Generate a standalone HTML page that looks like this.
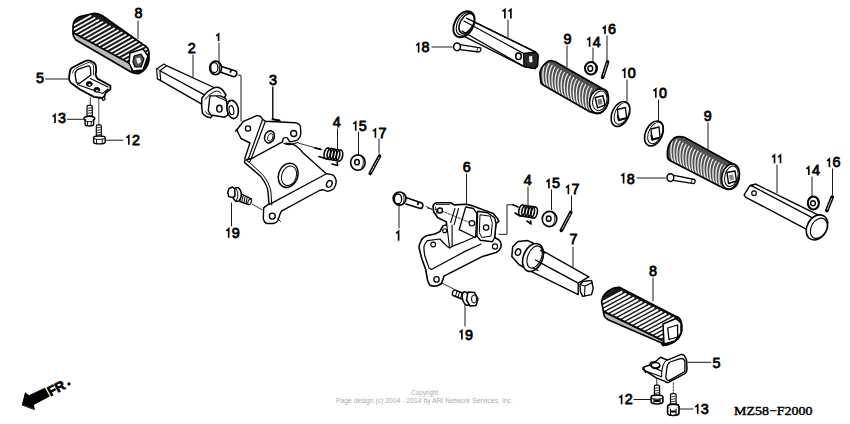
<!DOCTYPE html>
<html><head><meta charset="utf-8"><style>
html,body{margin:0;padding:0;background:#fff;width:850px;height:424px;overflow:hidden}
svg{position:absolute;left:0;top:0}
.d{font-family:"Liberation Sans",sans-serif;font-size:13.8px;fill:#000;stroke:#000;stroke-width:0.75}
</style></head><body>
<svg width="850" height="424" viewBox="0 0 850 424">
<g id="labels">
<text x="0" y="0" transform="translate(138.6,18.4) scale(1.04,1)" text-anchor="middle" class="d">8</text>
<text x="0" y="0" transform="translate(40.0,83.0) scale(1.04,1)" text-anchor="middle" class="d">5</text>
<path d="M55.0,123.0V114.7l-2.4,2.0" fill="none" stroke="#000" stroke-width="1.65"/>
<text x="0" y="0" transform="translate(62.1,123.0) scale(1.04,1)" text-anchor="middle" class="d">3</text>
<path d="M128.8,144.8V135.8l-2.4,2.0" fill="none" stroke="#000" stroke-width="1.65"/>
<text x="0" y="0" transform="translate(135.9,144.8) scale(1.04,1)" text-anchor="middle" class="d">2</text>
<text x="0" y="0" transform="translate(191.8,53.0) scale(1.04,1)" text-anchor="middle" class="d">2</text>
<path d="M218.6,41.0V33.9l-2.4,2.0" fill="none" stroke="#000" stroke-width="1.65"/>
<text x="0" y="0" transform="translate(273.1,84.8) scale(1.04,1)" text-anchor="middle" class="d">3</text>
<text x="0" y="0" transform="translate(336.8,127.0) scale(1.04,1)" text-anchor="middle" class="d">4</text>
<path d="M355.7,130.7V121.9l-2.4,2.0" fill="none" stroke="#000" stroke-width="1.65"/>
<text x="0" y="0" transform="translate(362.8,130.7) scale(1.04,1)" text-anchor="middle" class="d">5</text>
<path d="M375.4,137.7V129.2l-2.4,2.0" fill="none" stroke="#000" stroke-width="1.65"/>
<text x="0" y="0" transform="translate(382.5,137.7) scale(1.04,1)" text-anchor="middle" class="d">7</text>
<path d="M228.7,237.8V228.8l-2.4,2.0" fill="none" stroke="#000" stroke-width="1.65"/>
<text x="0" y="0" transform="translate(235.8,237.8) scale(1.04,1)" text-anchor="middle" class="d">9</text>
<path d="M504.9,18.4V9.4l-2.4,2.0" fill="none" stroke="#000" stroke-width="1.65"/>
<path d="M510.9,18.4V9.4l-2.4,2.0" fill="none" stroke="#000" stroke-width="1.65"/>
<path d="M418.6,52.4V43.4l-2.4,2.0" fill="none" stroke="#000" stroke-width="1.65"/>
<text x="0" y="0" transform="translate(425.6,52.4) scale(1.04,1)" text-anchor="middle" class="d">8</text>
<text x="0" y="0" transform="translate(567.5,44.0) scale(1.04,1)" text-anchor="middle" class="d">9</text>
<path d="M589.6,46.8V37.9l-2.4,2.0" fill="none" stroke="#000" stroke-width="1.65"/>
<text x="0" y="0" transform="translate(596.7,46.8) scale(1.04,1)" text-anchor="middle" class="d">4</text>
<path d="M605.0,34.0V26.5l-2.4,2.0" fill="none" stroke="#000" stroke-width="1.65"/>
<text x="0" y="0" transform="translate(612.1,34.0) scale(1.04,1)" text-anchor="middle" class="d">6</text>
<path d="M624.7,78.0V68.9l-2.4,2.0" fill="none" stroke="#000" stroke-width="1.65"/>
<text x="0" y="0" transform="translate(631.8,78.0) scale(1.04,1)" text-anchor="middle" class="d">0</text>
<path d="M655.8,97.8V88.9l-2.4,2.0" fill="none" stroke="#000" stroke-width="1.65"/>
<text x="0" y="0" transform="translate(662.9,97.8) scale(1.04,1)" text-anchor="middle" class="d">0</text>
<text x="0" y="0" transform="translate(707.8,121.2) scale(1.04,1)" text-anchor="middle" class="d">9</text>
<path d="M623.6,183.6V173.9l-2.4,2.0" fill="none" stroke="#000" stroke-width="1.65"/>
<text x="0" y="0" transform="translate(630.7,183.6) scale(1.04,1)" text-anchor="middle" class="d">8</text>
<path d="M774.5,163.3V155.1l-2.4,2.0" fill="none" stroke="#000" stroke-width="1.65"/>
<path d="M780.5,163.3V155.1l-2.4,2.0" fill="none" stroke="#000" stroke-width="1.65"/>
<path d="M808.8,175.0V166.9l-2.4,2.0" fill="none" stroke="#000" stroke-width="1.65"/>
<text x="0" y="0" transform="translate(815.9,175.0) scale(1.04,1)" text-anchor="middle" class="d">4</text>
<path d="M829.4,167.2V158.9l-2.4,2.0" fill="none" stroke="#000" stroke-width="1.65"/>
<text x="0" y="0" transform="translate(836.5,167.2) scale(1.04,1)" text-anchor="middle" class="d">6</text>
<text x="0" y="0" transform="translate(466.8,172.0) scale(1.04,1)" text-anchor="middle" class="d">6</text>
<path d="M398.6,240.7V231.3l-2.4,2.0" fill="none" stroke="#000" stroke-width="1.65"/>
<text x="0" y="0" transform="translate(527.7,184.8) scale(1.04,1)" text-anchor="middle" class="d">4</text>
<path d="M548.9,188.3V179.8l-2.4,2.0" fill="none" stroke="#000" stroke-width="1.65"/>
<text x="0" y="0" transform="translate(556.0,188.3) scale(1.04,1)" text-anchor="middle" class="d">5</text>
<path d="M568.4,194.2V185.7l-2.4,2.0" fill="none" stroke="#000" stroke-width="1.65"/>
<text x="0" y="0" transform="translate(575.5,194.2) scale(1.04,1)" text-anchor="middle" class="d">7</text>
<text x="0" y="0" transform="translate(573.5,244.0) scale(1.04,1)" text-anchor="middle" class="d">7</text>
<text x="0" y="0" transform="translate(653.0,276.2) scale(1.04,1)" text-anchor="middle" class="d">8</text>
<path d="M461.9,339.5V330.4l-2.4,2.0" fill="none" stroke="#000" stroke-width="1.65"/>
<text x="0" y="0" transform="translate(469.0,339.5) scale(1.04,1)" text-anchor="middle" class="d">9</text>
<text x="0" y="0" transform="translate(716.4,367.5) scale(1.04,1)" text-anchor="middle" class="d">5</text>
<path d="M621.6,404.2V395.7l-2.4,2.0" fill="none" stroke="#000" stroke-width="1.65"/>
<text x="0" y="0" transform="translate(628.7,404.2) scale(1.04,1)" text-anchor="middle" class="d">2</text>
<path d="M697.7,413.7V405.1l-2.4,2.0" fill="none" stroke="#000" stroke-width="1.65"/>
<text x="0" y="0" transform="translate(704.8,413.7) scale(1.04,1)" text-anchor="middle" class="d">3</text>
</g>
<g fill="none" stroke="#000" stroke-width="1.1" stroke-linecap="round" stroke-linejoin="round">
<!-- leader lines -->
<g stroke-width="0.9">
<path d="M45.5,79H68"/>
<path d="M67.5,119.3H83"/>
<path d="M105.5,140.2H123"/>
<path d="M138,21V38.7"/>
<path d="M193,55V76.6"/>
<path d="M219,43V62.5"/>
<path d="M273,87V119"/>
<path d="M337.5,129V149.5"/>
<path d="M358.5,132V155"/>
<path d="M379,139V153"/>
<path d="M231.5,203V226"/>
<path d="M508,20V36.8"/>
<path d="M432,47H452.4"/>
<path d="M567,46V66.7"/>
<path d="M593,48V62.4"/>
<path d="M607,36V61"/>
<path d="M627,80V100.6"/>
<path d="M658.5,100V120.5"/>
<path d="M708,123V152.4"/>
<path d="M637,178H665.3"/>
<path d="M777,165V193"/>
<path d="M812,177V195.7"/>
<path d="M832.5,169V194.4"/>
<path d="M466.5,174V205.7"/>
<path d="M399,205.7V228"/>
<path d="M528,187V204.8"/>
<path d="M551.5,190V209.5"/>
<path d="M571.5,196V210.7"/>
<path d="M573,247V268"/>
<path d="M653,278V301"/>
<path d="M465,304.8V326"/>
<path d="M687.6,362.3H710.7"/>
<path d="M634,399.5H650.9"/>
<path d="M678.2,409H693"/>

</g>
<!-- rubber 8 top-left -->
<g id="r8a">
<clipPath id="c8a"><path d="M73,27C73,22 76,18 80,16.5L93,13.5C96,13 99,14 102,15.5L143,44.5C146,46 149,49 149,53L149,60C148,66 144,71 139,73.5C136,74 133,73 131,72L76,40C74,38 73,36 73,34Z"/></clipPath>
<path d="M73,27C73,22 76,18 80,16.5L93,13.5C96,13 99,14 102,15.5L143,44.5C146,46 149,49 149,53L149,60C148,66 144,71 139,73.5C136,74 133,73 131,72L76,40C74,38 73,36 73,34Z" fill="#1a1a1a" stroke="none"/>
<g clip-path="url(#c8a)">
<path d="M66.7,29.3L90.7,15.8M70.6,31.4L94.6,17.9M74.5,33.5L98.5,20.0M78.4,35.6L102.4,22.1M82.3,37.7L106.3,24.2M86.2,39.8L110.2,26.3M90.1,41.9L114.1,28.4M94.0,44.0L118.0,30.5M97.9,46.1L121.9,32.6M101.8,48.2L125.8,34.7M105.7,50.3L129.7,36.8M109.6,52.4L133.6,38.9M113.5,54.5L137.5,41.0M117.4,56.6L141.4,43.1M121.3,58.7L145.3,45.2M125.2,60.8L149.2,47.3M129.1,62.9L153.1,49.4" stroke="#fff" stroke-width="1.7"/>
<path d="M72,33L130,64L132,75L72,42Z" fill="#b8b8b8" stroke="none"/>
<path d="M73,32.5L130,63.5" stroke="#000" stroke-width="1.6"/>
</g>
<path d="M73,27C73,22 76,18 80,16.5L93,13.5C96,13 99,14 102,15.5L143,44.5C146,46 149,49 149,53L149,60C148,66 144,71 139,73.5C136,74 133,73 131,72L76,40C74,38 73,36 73,34Z" fill="none" stroke-width="1.7"/>
<path d="M130,53L143,49L148,56L143,70L133,71L129,63Z" fill="#fff" stroke-width="1.5"/>
<path d="M134,56L141,54L144,59L141,67L135,67L133,62Z" fill="#555" stroke-width="1.2"/>
<path d="M136,58.5L140,57.5L141,62L138,64Z" fill="#fff" stroke="none"/>
</g>
<!-- bracket 5 top-left -->
<g id="b5a">
<path stroke-width="1.8" d="M69.7,72.7C70,69 71.5,67.5 73.8,66.8L85.6,60.9C87.5,60.3 89,60.2 90.3,60.9C93,61.8 95,63 95.8,65.5L96.2,70.3L95.6,75L97.4,78.6L110.4,85.7L110.4,89.2L105.7,92.8L104.5,96.3L102,98L93.9,96.9L79.7,89.2L71.4,83.3C69.5,81.5 69,80 69,78.6Z" fill="#fff"/>
<path d="M75,73.9C75.5,71.5 76.5,70 78.5,69.2L87.4,66.2C89,65.6 90.3,66.5 90.3,68L90.9,75L79.7,83.3C77.5,83.5 76.2,82.5 76.2,81.6Z" fill="#fff" stroke-width="1.3"/>
<path d="M72.5,73C73,70 75,68.5 77,67.5L87,63C90,62 93,63 93.5,66L93.5,75" stroke-width="0.8"/>
<path d="M90.3,78.6L108,86.9 M77.3,84.5L102.7,93.4 M102.7,93.4L108,89"/>
<ellipse cx="89.2" cy="84" rx="2.9" ry="2.4" fill="#111" stroke-width="1"/><ellipse cx="89.6" cy="84.9" rx="1.3" ry="0.8" fill="#fff" stroke="none"/>
<ellipse cx="96.8" cy="89.8" rx="2.9" ry="2.4" fill="#111" stroke-width="1"/><ellipse cx="97.2" cy="90.7" rx="1.3" ry="0.8" fill="#fff" stroke="none"/>
<path d="M101.5,97.5L103,100.5L105,99.5L104.5,96" stroke-width="1.2"/>
</g>
<!-- bolt 13 top-left -->
<g id="bt13a">
<path d="M90.3,97.6V105.4" stroke-width="0.8"/>
<rect x="87" y="105.4" width="5.3" height="11.6" rx="1.5" fill="#fff" stroke-width="1.2"/>
<path d="M88,108.3L91.5,107.8M88,110.8L91.5,110.3M88,113.3L91.5,112.8M88,115.8L91.5,115.3" stroke-width="0.8"/>
<ellipse cx="89.3" cy="118.5" rx="5.5" ry="2.3" fill="#fff" stroke-width="1.4"/>
<path d="M85.1,119.5V124.5C85.1,126.5 93.6,126.5 93.6,124.5V119.5" fill="#fff" stroke-width="1.4"/>
<path d="M85.5,121C87,122 91.5,122 93.2,121M87.5,122V125.5M91.2,122V125.5" stroke-width="0.9"/>
</g>
<!-- bolt 12 top-left -->
<g id="bt12a">
<path d="M98.8,98V124.8" stroke-width="0.7"/>
<rect x="96.3" y="124.8" width="5" height="11.7" rx="1.3" fill="#fff" stroke-width="1.2"/>
<path d="M97.3,127.8L100.3,127.3M97.3,130.3L100.3,129.8M97.3,132.8L100.3,132.3M97.3,135L100.3,134.6" stroke-width="0.8"/>
<path d="M93.6,137.5C93.6,135.5 105.2,135.5 105.2,137.5V142C105.2,144.5 93.6,144.5 93.6,142Z" fill="#fff" stroke-width="1.4"/>
<path d="M93.8,138.5C96,139.8 102.5,139.8 105,138.5M96.5,139.5V143.5M102.3,139.5V143.5" stroke-width="0.9"/>
</g>
<!-- peg 2 -->
<g id="peg2">
<path d="M156.6,69L164,64.1L166.5,65.7L216,88.5L202,98L201.2,102.9L160.7,80.6L157.4,78.9Z" fill="#fff" stroke="none"/>
<path d="M166.5,65.7L215,88 M159.9,70.7L204.6,94.9 M160.7,80.6L201.4,103.9" stroke-width="1.3"/>
<path d="M156.6,69L164,64.1L166.5,65.7L159.9,70.7Z" fill="#fff" stroke-width="1.2"/>
<path d="M156.6,69L157.4,78.9L160.7,80.6L159.9,70.7" fill="#fff" stroke-width="1.2"/>
<path d="M201.9,98C205,94 210,89 215.2,87.4C218,86.8 221,88 223,90.5L226,95L210.9,117.7C207,117.5 204,115.5 202.4,112.9C201.5,108 201.5,102 201.9,98Z" fill="#fff" stroke-width="1.5"/>
<path d="M205,99.5C208,96 212,92 216.2,91.1C218.5,90.8 220,92 221,93.5 M205.6,111.8C206.5,113.5 208.5,114.8 210.9,115" stroke-width="1"/>
<path d="M209.9,95.9L220.5,95.9L225.8,98.6L226.8,102.8L227.9,115L224.7,117.2L210.9,115L208.3,110.8Z" fill="#fff" stroke-width="1.4"/>
<path d="M216.5,96.5L225.8,100.5" stroke-width="1"/>
<ellipse cx="219.4" cy="108.7" rx="2.7" ry="3.4" stroke-width="1.4"/>
<ellipse cx="232.7" cy="109.5" rx="5.6" ry="9.2" transform="rotate(-10 232.7 109.5)" fill="#fff" stroke-width="1.6"/>
<ellipse cx="231.4" cy="110.2" rx="2.3" ry="4.6" transform="rotate(-10 231.4 110.2)" stroke-width="1.1"/>
<path d="M227.5,101.5C229,100 230,100 231,100.5" stroke-width="1"/>
</g>
<!-- pin 1 top -->
<g id="pin1a">
<path d="M220,65.9L235.7,70.9C237.5,72 237,76.5 233.9,76.8L220,72.1" fill="#fff" stroke-width="1.6"/>
<path d="M231,70.2L230.5,72" stroke-width="1.8"/>
<ellipse cx="215.6" cy="67.9" rx="5.9" ry="6.7" fill="#fff" stroke-width="1.7"/>
<ellipse cx="214.3" cy="67.7" rx="3.6" ry="5" fill="#fff" stroke-width="1.3"/>
<path d="M218.5,62.5C220,64.5 220,71 218.5,73.5" stroke-width="0.9"/>
<path d="M238,75L241,75.4V121" stroke-width="0.9"/>
</g>
<!-- bracket 3 -->
<g id="br3">
<path d="M235.7,131.2L243.5,121.3L256.9,115.6L260.5,116.3L262.6,119.2L265.4,121.3L295.2,122.7C298,123.5 300,124.5 300.4,126.5L300.8,133.3C300.5,137 298.5,139.5 296.6,140.4C294,141.5 291.5,141.8 289.5,141.8C288.5,140 288,138 286.7,137.6C284.5,137.5 283,138 283.1,139L282.4,141.8L251.2,158.8L245.6,160C244,161 244.5,163 245.6,163.4L260.5,176.1C265,182 267.5,187 267.9,191L269,203.7L263.7,207.9L263.3,218.6C264,221.5 265,223 266.6,223.5L273.2,223.5C275.5,222.8 277.5,221.5 278.1,220.2L279.8,214.5L281.4,211.2L319.4,190.5L322.7,189.7L327.6,191.4C331,190.5 333.5,189.5 334.2,188C336,185 336.5,182 335.9,179.8C335,177 334,175.5 332.6,174.9L326,173.5L302.9,152.7C299,148 295,145 292.3,144.2L286,143.2" fill="#fff" stroke-width="1.4"/>
<path d="M236.5,129.5L241,138.5L250,143L244.6,159.1" stroke-width="1.4"/>
<path d="M262.6,119.2L248.4,158.8 M265.4,121.3L251.2,158.8" stroke-width="1.2"/>
<path d="M283.8,143.2C285,144.5 287,144.8 289.5,144.7L298,142.5" stroke-width="1.1"/>
<circle cx="248" cy="128.5" r="2.6" stroke-width="1.3"/>
<ellipse cx="269.5" cy="136.9" rx="4.8" ry="6.2" transform="rotate(20 269.5 136.9)" stroke-width="1.5"/>
<ellipse cx="270.3" cy="137.4" rx="2.5" ry="4" transform="rotate(20 270.3 137.4)" stroke-width="0.8"/>
<circle cx="293.7" cy="133.5" r="3" stroke-width="1.4"/>
<path d="M248.5,161.5L262.5,174.5C267,180 270,186 270.8,191L271.8,205" stroke-width="1"/><circle cx="248.8" cy="160.2" r="1.8" stroke-width="1"/>
<path d="M269,204.6L326,174" stroke-width="1.2"/>
<ellipse cx="288.2" cy="175.3" rx="9.6" ry="12.4" transform="rotate(20 288.2 175.3)" fill="#fff" stroke-width="1.5"/>
<ellipse cx="289" cy="175.8" rx="7.3" ry="10" transform="rotate(20 289 175.8)" stroke-width="1"/>
<ellipse cx="329.3" cy="183.9" rx="2.6" ry="3.5" transform="rotate(25 329.3 183.9)" stroke-width="1.4"/>
<circle cx="272.3" cy="216.1" r="3" stroke-width="1.4"/>
<path d="M277.5,218.6L280.5,221.5" stroke-width="1"/>
<path d="M272.5,87V119.5" stroke-width="0.8"/>
<path d="M272.5,119.2L279.6,120.6" stroke-width="2"/>
<path d="M298.7,143.2L322,149.6" stroke-width="0.8"/>
</g>
<!-- spring 4 left -->
<g id="sp4a" stroke-width="1.6">
<path d="M315,148L320.7,149.4 M318.8,156.5L325.4,158.4 M332,164L337.6,165.5L337.2,162.2"/>
<ellipse cx="327.3" cy="153.5" rx="3.1" ry="5.7" transform="rotate(12 327.3 153.5)"/>
<ellipse cx="330.4" cy="154" rx="3.1" ry="5.7" transform="rotate(12 330.4 154)"/>
<ellipse cx="333.5" cy="154.5" rx="3.1" ry="5.7" transform="rotate(12 333.5 154.5)"/>
<ellipse cx="336.6" cy="155" rx="3.1" ry="5.7" transform="rotate(12 336.6 155)"/>
<ellipse cx="339.5" cy="155.6" rx="3.1" ry="5.7" transform="rotate(12 339.5 155.6)"/>
</g>
<!-- washer 15 left -->
<g id="w15a">
<ellipse cx="357.9" cy="162.6" rx="7.3" ry="7.7" fill="#fff" stroke-width="1.6"/>
<path d="M362,157C364,159 364,165 361.5,168" stroke-width="0.9"/>
<ellipse cx="357" cy="162.2" rx="2.3" ry="2.6" stroke-width="1.5"/>
</g>
<!-- cotter 17 left -->
<path d="M379.6,156L370.2,173.5" stroke-width="3.6"/>
<path d="M379,157.5L371,172" stroke="#fff" stroke-width="0.8" stroke-dasharray="2 1.2"/>
<!-- bolt 19 left -->
<g id="bt19a">
<path d="M241.1,193.8L251.3,198.9C252,200 250.5,204 248.8,204.7L239.8,201.5Z" fill="#fff" stroke-width="1.4"/>
<path d="M243,196L242,201M245,197L244,202.5M247,198L246,203.5" stroke-width="1"/>
<ellipse cx="249.6" cy="201.8" rx="1.6" ry="2.8" transform="rotate(20 249.6 201.8)" fill="#fff" stroke-width="1"/>
<ellipse cx="237" cy="194.5" rx="4.3" ry="7" fill="#fff" stroke-width="1.5"/>
<path d="M236,189C238.5,191 238.5,198 236,201" stroke-width="1"/>
<path d="M229,188.5L232.5,187L234.7,189L235,196L232.5,197.6L228.8,196.5L227.7,192.5Z" fill="#fff" stroke-width="1.5"/>
<path d="M252,204L262,209.8" stroke-width="0.8"/>
</g>
<!-- pin 11 top -->
<g id="pin11a">
<path d="M466.5,18.2L535.5,52L538,55L537.5,66L535,68.5L524,66.5L460.7,34.7" fill="#fff" stroke-width="1.4"/>

<path d="M523.5,53.5L535.5,52L538,55L537.5,66L535,68.5L524,66.5Z" fill="#2a2a2a" stroke-width="1.3"/>
<path d="M529,56.5L532,56L532.5,62L529.5,62.5Z" fill="#fff" stroke="none"/>
<ellipse cx="518.5" cy="56.3" rx="2.8" ry="3.3" stroke-width="1.5"/>
<ellipse cx="464" cy="24.3" rx="9.3" ry="14" transform="rotate(30 464 24.3)" fill="#fff" stroke-width="1.9"/>
<ellipse cx="465.3" cy="23.9" rx="7.8" ry="12.3" transform="rotate(30 465.3 23.9)" fill="#fff" stroke-width="1"/>
<ellipse cx="466.6" cy="23.5" rx="6.4" ry="10.8" transform="rotate(30 466.6 23.5)" fill="#fff" stroke-width="1.5"/>
<path d="M466.5,18.2L535.5,52 M464,21L523.5,53.5 M462,31L524,66.5" stroke-width="1.3"/>
</g>
<!-- pin 18 top -->
<g id="pin18a">
<path d="M459.9,44.6L480.5,47.9C481.5,49 480.5,51.5 478.8,52L459.9,49.6" fill="#fff" stroke-width="1.3"/>
<path d="M477.5,48L477,51.5" stroke-width="0.8"/>
<ellipse cx="457" cy="46.8" rx="3.4" ry="3.9" fill="#fff" stroke-width="1.5"/>
</g>
<!-- rubber 9 top -->
<g id="r9a">
<clipPath id="c9a"><path d="M545.7,63.2C547.5,61 549.5,60.5 551.5,60.7L554.8,61.6L602.6,88.8C605,89.5 607,91 607.6,92.9C608.5,96 608.6,99 608.4,101.2C607.5,106 605.5,109 603.4,111C601,113 598,113.8 596,113.5L590.2,111.9L544,85.5C541.5,84 540.5,82.5 540.7,81.4L539.9,73.1C540.5,69 543,65.5 545.7,63.2Z"/></clipPath>
<path d="M545.7,63.2C547.5,61 549.5,60.5 551.5,60.7L554.8,61.6L602.6,88.8C605,89.5 607,91 607.6,92.9C608.5,96 608.6,99 608.4,101.2C607.5,106 605.5,109 603.4,111C601,113 598,113.8 596,113.5L590.2,111.9L544,85.5C541.5,84 540.5,82.5 540.7,81.4L539.9,73.1C540.5,69 543,65.5 545.7,63.2Z" fill="#505050" stroke="none"/>
<g clip-path="url(#c9a)">
<path stroke="#eeeeee" stroke-width="1.35" d="M546.0,62.0C542.0,68.0 542.0,80.0 545.0,86.0M549.0,63.8C545.0,69.8 545.0,81.8 548.0,87.8M552.1,65.5C548.1,71.5 548.1,83.5 551.1,89.5M555.1,67.2C551.1,73.2 551.1,85.2 554.1,91.2M558.2,69.0C554.2,75.0 554.2,87.0 557.2,93.0M561.2,70.8C557.2,76.8 557.2,88.8 560.2,94.8M564.3,72.5C560.3,78.5 560.3,90.5 563.3,96.5M567.4,74.2C563.4,80.2 563.4,92.2 566.4,98.2M570.4,76.0C566.4,82.0 566.4,94.0 569.4,100.0M573.5,77.8C569.5,83.8 569.5,95.8 572.5,101.8M576.5,79.5C572.5,85.5 572.5,97.5 575.5,103.5M579.5,81.2C575.5,87.2 575.5,99.2 578.5,105.2M582.6,83.0C578.6,89.0 578.6,101.0 581.6,107.0M585.6,84.8C581.6,90.8 581.6,102.8 584.6,108.8M588.7,86.5C584.7,92.5 584.7,104.5 587.7,110.5M591.8,88.2C587.8,94.2 587.8,106.2 590.8,112.2M594.8,90.0C590.8,96.0 590.8,108.0 593.8,114.0M597.9,91.8C593.9,97.8 593.9,109.8 596.9,115.8"/>
</g>
<path d="M545.7,63.2C547.5,61 549.5,60.5 551.5,60.7L554.8,61.6L602.6,88.8C605,89.5 607,91 607.6,92.9C608.5,96 608.6,99 608.4,101.2C607.5,106 605.5,109 603.4,111C601,113 598,113.8 596,113.5L590.2,111.9L544,85.5C541.5,84 540.5,82.5 540.7,81.4L539.9,73.1C540.5,69 543,65.5 545.7,63.2Z" fill="none" stroke-width="1.7"/>
<ellipse cx="598.9" cy="101" rx="9.2" ry="12.3" transform="rotate(15 598.9 101)" fill="#fff" stroke-width="1.6"/>
<ellipse cx="599.8" cy="100.8" rx="7" ry="10" transform="rotate(15 599.8 100.8)" fill="#fff" stroke-width="1"/>
<path d="M595.2,97.5L603,95.8L605,105L597.5,107.8Z" fill="#fff" stroke-width="1.4"/>
<path d="M597.5,99.5L601.5,98.5L602.5,104L598.5,105Z" fill="#777" stroke="none"/>
</g>
<!-- washer 14 top -->
<g id="w14a">
<ellipse cx="591" cy="68.3" rx="6" ry="6.3" fill="#fff" stroke-width="2"/>
<ellipse cx="590.3" cy="68.5" rx="2.4" ry="2.7" fill="#fff" stroke-width="1.4"/><path d="M594.5,64C596.5,66 596.5,71 594,73.5" stroke-width="0.9"/>
</g>
<!-- cotter 16 top -->
<path d="M607.6,62L602.6,77.2" stroke-width="3.6"/>
<path d="M607,63.5L603.2,76" stroke="#fff" stroke-width="0.8" stroke-dasharray="2 1.2"/>
<!-- washers 10 -->
<g id="w10">
<ellipse cx="620.5" cy="114" rx="8.4" ry="13.2" transform="rotate(25 620.5 114)" fill="#fff" stroke-width="1.6"/>
<ellipse cx="621.8" cy="113.5" rx="6.6" ry="11.5" transform="rotate(25 622 113.5)" stroke-width="0.9"/>
<path d="M617.5,109.5L625.5,107.5L626.5,118L618.5,120.5Z" fill="#fff" stroke-width="1.3"/>
<path d="M617.8,116L619,120L625,118.5" stroke-width="2"/>
<ellipse cx="654" cy="133.5" rx="8.4" ry="13.2" transform="rotate(25 654 133.5)" fill="#fff" stroke-width="1.6"/>
<ellipse cx="655.3" cy="133" rx="6.6" ry="11.5" transform="rotate(25 655.5 133)" stroke-width="0.9"/>
<path d="M651,129L659,127L660,137.5L652,140Z" fill="#fff" stroke-width="1.3"/>
<path d="M651.3,135.5L652.5,139.5L658.5,138" stroke-width="2"/>
</g>
<!-- rubber 9 right -->
<g id="r9b">
<clipPath id="c9b"><path d="M672.4,139.9C674,137.5 677,136.5 679.8,136.6L684.8,137.4L732.6,163.8C735,165 737.5,167 738.4,169.6C739.5,172.5 739.5,175.5 739.2,177.8C738.5,182 737,185 735.1,186.9C733,188.8 730,189.5 727.7,189.4L722.7,187.7L669.9,160.5C668,159 667.2,157 667.4,155L667.4,151.4C668,146 670,142 672.4,139.9Z"/></clipPath>
<path d="M672.4,139.9C674,137.5 677,136.5 679.8,136.6L684.8,137.4L732.6,163.8C735,165 737.5,167 738.4,169.6C739.5,172.5 739.5,175.5 739.2,177.8C738.5,182 737,185 735.1,186.9C733,188.8 730,189.5 727.7,189.4L722.7,187.7L669.9,160.5C668,159 667.2,157 667.4,155L667.4,151.4C668,146 670,142 672.4,139.9Z" fill="#505050" stroke="none"/>
<g clip-path="url(#c9b)">
<path stroke="#eeeeee" stroke-width="1.35" d="M674.0,138.0C670.0,144.0 670.0,156.0 673.0,162.0M677.0,139.7C673.0,145.7 673.0,157.7 676.0,163.7M680.0,141.3C676.0,147.3 676.0,159.3 679.0,165.3M683.0,142.9C679.0,148.9 679.0,160.9 682.0,166.9M686.0,144.6C682.0,150.6 682.0,162.6 685.0,168.6M689.0,146.2C685.0,152.2 685.0,164.2 688.0,170.2M692.0,147.9C688.0,153.9 688.0,165.9 691.0,171.9M695.0,149.6C691.0,155.6 691.0,167.6 694.0,173.6M698.0,151.2C694.0,157.2 694.0,169.2 697.0,175.2M701.0,152.8C697.0,158.8 697.0,170.8 700.0,176.8M704.0,154.5C700.0,160.5 700.0,172.5 703.0,178.5M707.0,156.2C703.0,162.2 703.0,174.2 706.0,180.2M710.0,157.8C706.0,163.8 706.0,175.8 709.0,181.8M713.0,159.4C709.0,165.4 709.0,177.4 712.0,183.4M716.0,161.1C712.0,167.1 712.0,179.1 715.0,185.1M719.0,162.8C715.0,168.8 715.0,180.8 718.0,186.8M722.0,164.4C718.0,170.4 718.0,182.4 721.0,188.4M725.0,166.1C721.0,172.1 721.0,184.1 724.0,190.1M728.0,167.7C724.0,173.7 724.0,185.7 727.0,191.7"/>
</g>
<path d="M672.4,139.9C674,137.5 677,136.5 679.8,136.6L684.8,137.4L732.6,163.8C735,165 737.5,167 738.4,169.6C739.5,172.5 739.5,175.5 739.2,177.8C738.5,182 737,185 735.1,186.9C733,188.8 730,189.5 727.7,189.4L722.7,187.7L669.9,160.5C668,159 667.2,157 667.4,155L667.4,151.4C668,146 670,142 672.4,139.9Z" fill="none" stroke-width="1.7"/>
<ellipse cx="730.5" cy="176.5" rx="8.6" ry="12.8" transform="rotate(15 730.5 176.5)" fill="#fff" stroke-width="1.6"/>
<ellipse cx="731.4" cy="176.3" rx="6.5" ry="10.5" transform="rotate(15 731.4 176.3)" fill="#fff" stroke-width="1"/>
<path d="M727,172.5L735,171L736.5,181L728.5,183.5Z" fill="#fff" stroke-width="1.4"/>
<path d="M729,175L733,174.5L734,179.5L730,180.5Z" fill="#888" stroke="none"/>
</g>
<!-- pin 18 right -->
<g id="pin18b">
<path d="M674,175.3L694.7,179.5C695.7,180.5 695,183 693.8,183.6L673.2,180.3" fill="#fff" stroke-width="1.3"/>
<path d="M692,179.5L691.3,183" stroke-width="0.8"/>
<ellipse cx="670.4" cy="177.6" rx="3.4" ry="3.9" fill="#fff" stroke-width="1.5"/>
</g>
<!-- pin 11 right -->
<g id="pin11b">
<path d="M755.7,184.1L817.6,214.6L808.5,230.3L745.8,197.3L744.1,194.8L749.9,185.7Z" fill="#fff" stroke-width="1.4"/>
<path d="M749.9,185.7L755.7,184.1 M753.2,186.6L812.6,217.9 M749.9,185.7L753.2,186.6" stroke-width="1.2"/>
<circle cx="754" cy="193.2" r="2.3" stroke-width="1.2"/>
<ellipse cx="817" cy="227.4" rx="9.8" ry="13.3" transform="rotate(30 817 227.4)" fill="#fff" stroke-width="1.6"/>
<ellipse cx="818.8" cy="228.3" rx="7.6" ry="10.8" transform="rotate(30 818.8 228.3)" fill="#fff" stroke-width="1.1"/>
</g>
<!-- washer 14 right -->
<g id="w14b">
<ellipse cx="813.4" cy="203" rx="5.6" ry="6.4" fill="#fff" stroke-width="2"/>
<ellipse cx="813" cy="203.3" rx="2.3" ry="2.6" fill="#fff" stroke-width="1.4"/><path d="M817,199C819,201 819,206 816.5,208.5" stroke-width="0.9"/>
</g>
<!-- cotter 16 right -->
<path d="M832.2,197L826.8,210.5" stroke-width="3.6"/>
<path d="M831.6,198.5L827.4,209.3" stroke="#fff" stroke-width="0.8" stroke-dasharray="2 1.2"/>
<!-- bolt 1 mid -->
<g id="bt1b">
<path d="M406,197.4L421.8,203C423.8,204.5 423,208.5 420.4,208.4L406,204.1" fill="#fff" stroke-width="1.6"/>
<path d="M418.3,202.5L417.8,204.3" stroke-width="1.8"/>
<ellipse cx="399.6" cy="198.6" rx="6.4" ry="6.6" fill="#fff" stroke-width="1.7"/>
<ellipse cx="398" cy="199" rx="3.6" ry="5" fill="#fff" stroke-width="1.3"/>
<path d="M402.8,193C404.5,195 404.5,202 402.8,204.5" stroke-width="0.9"/>
<path d="M426.5,206.5L432,209.5" stroke-width="0.9"/>
</g>
<!-- bracket 6 -->
<g id="br6">
<path d="M446.4,225L443,225.8L439.8,231.6L434.8,234L426.6,235.7C423.5,237 421.5,239 420.8,241.5C419.5,244 419,246 419.1,248L421.6,258L425.7,269.5L427.4,279.4C428,282 429,284 429.9,285.2C432,286.5 434,286.3 436.5,286C438.5,285.5 440,284.5 441.4,283.5L443,279.4L443.9,276.1L482.6,256.4L496,252.5C498,251.5 500,249.5 500.8,247.5C501.5,245 501,242 499.1,240L494.6,237.5L496,223.3L497.4,222.6L498.8,221.2L497.4,218.4L493.2,213.4L477.6,207.7L471.9,205.6L466.2,204.2L454.2,204.9L450.7,202.8L436.5,202.8C434.5,203.5 433.2,204.8 433,206.3L433.7,212L437.9,217.7L446.4,221.9Z" fill="#fff" stroke-width="1.6"/>
<path d="M427.4,240.6C425.5,242.5 424.3,244.5 424,246.4C423.8,250 424.2,253 424.9,256.3L429,267.9L431.5,269.5L465,251.4L481,244" stroke-width="1.2"/>
<path d="M427.4,240.6L439.8,239L447.2,246.4L449.6,248L452.1,246.4L464.5,241.5L477,236" stroke-width="1.2"/>
<path d="M446.4,221.9L449.6,248 M452.1,225L452.1,246.4" stroke-width="1.1"/>
<path d="M454.9,208.5L450.7,222.6 M458.5,208.5L454.2,224.7" stroke-width="1.1"/>
<path d="M466.2,207L473.3,208.5L476.9,213.4L475.5,237.5L459.2,229.7L465.5,207.7Z" fill="#fff" stroke-width="1.3"/>
<path d="M477.6,211.3L487.5,212.7L494.6,217.7L496,223.3L494.6,237.5L492.4,241.7L480.4,240.3L476.9,236.1Z" fill="#fff" stroke-width="1.4"/>
<path d="M480.4,214.8L490.3,216.2L492.4,223.3L491,236.1L481.8,237.5L479.5,233Z" stroke-width="1"/>
<path d="M435.5,207L437,214 M436.5,204.5L449.5,204.5" stroke-width="0.8"/>
<circle cx="440" cy="210.5" r="2.5" fill="#fff" stroke-width="1.4"/>
<circle cx="471.9" cy="223.3" r="2.7" stroke-width="1.2"/>
<circle cx="486.1" cy="227.6" r="2.7" stroke-width="1.2"/>
<circle cx="444.7" cy="230.7" r="2" stroke-width="1.1"/>
<circle cx="433.2" cy="244.5" r="2.4" stroke-width="1.1"/>
<circle cx="436.5" cy="279.4" r="2.7" stroke-width="1.3"/>
<circle cx="495" cy="246.5" r="2.6" stroke-width="1.2"/>
<path d="M428,208.5L438,209.5 M442,211L469.5,222.5" stroke-width="0.8" stroke-dasharray="2 1.5"/>
<path d="M499,234.3H507V204.8H513" stroke-width="0.9"/>
<path d="M441.4,282.8L454.6,289.4" stroke-width="0.8"/>
</g>
<!-- spring 4 mid -->
<g id="sp4b" stroke-width="1.6">
<path d="M513,204.8L518,207 M515,213L520,216 M527,221L531,224L530.5,221"/>
<ellipse cx="522" cy="210.5" rx="3.1" ry="5.7" transform="rotate(12 522 210.5)"/>
<ellipse cx="525.1" cy="211" rx="3.1" ry="5.7" transform="rotate(12 525.1 211)"/>
<ellipse cx="528.2" cy="211.5" rx="3.1" ry="5.7" transform="rotate(12 528.2 211.5)"/>
<ellipse cx="531.3" cy="212" rx="3.1" ry="5.7" transform="rotate(12 531.3 212)"/>
<ellipse cx="534.2" cy="212.5" rx="3.1" ry="5.7" transform="rotate(12 534.2 212.5)"/>
</g>
<!-- washer 15 mid -->
<g id="w15b">
<ellipse cx="549.5" cy="219" rx="7.3" ry="7.6" fill="#fff" stroke-width="1.6"/>
<path d="M553.5,213.5C555.5,215.5 555.5,221.5 553,224.5" stroke-width="0.9"/>
<ellipse cx="548.7" cy="218.7" rx="2.3" ry="2.6" stroke-width="1.5"/>
</g>
<!-- cotter 17 mid -->
<path d="M570.8,212.5L561.3,230.3" stroke-width="3.6"/>
<path d="M570.2,214L562,229" stroke="#fff" stroke-width="0.8" stroke-dasharray="2 1.2"/>
<!-- peg 7 -->
<g id="peg7">
<path d="M512.7,246.8L518,241.5L527.7,240.6L533,243L528,267L523.3,267.2L518.9,264.5L511.8,256.5Z" fill="#fff" stroke-width="1.5"/>
<ellipse cx="518" cy="252.1" rx="2.6" ry="3.3" transform="rotate(20 518 252.1)" stroke-width="1.4"/>
<path d="M535,246L588.8,276.9L578.2,283.1L578.2,294.6L528,268Z" fill="#fff" stroke="none"/>
<path d="M536,247L588.8,276.9 M532.2,258.3L578.2,283.1 M529.5,270.7L578.2,294.6 M588.8,276.9L578.2,283.1L578.2,294.6" stroke-width="1.4"/>
<path d="M580,284.5L583,281.5L591.5,280.4L593.2,288.4L591.5,294.6L582.6,296.4L580.5,292Z" fill="#fff" stroke-width="1.4"/>
<path d="M580,284.5L585,286L592.5,282.5 M585,286L584.5,296" stroke-width="1.1"/>
<ellipse cx="533" cy="257.5" rx="9.6" ry="14.6" transform="rotate(22 533 257.5)" fill="#fff" stroke-width="1.6"/>
<ellipse cx="534.6" cy="257" rx="6.8" ry="11.6" transform="rotate(22 534.6 257)" fill="#fff" stroke-width="1.1"/>
<path d="M540.5,250.5L545,253 M535.5,260L541,263 M533,268L538,270.5" stroke-width="1.3"/>
</g>
<!-- bolt 19 mid -->
<g id="bt19b">
<path d="M454.9,289.9L464.8,294L463,299.5L453,295.5C451.5,294.5 452.5,290.5 454.9,289.9Z" fill="#fff" stroke-width="1.4"/>
<path d="M457,291L455.5,296.5M459.5,292L458,297.5M462,293L460.5,298.5" stroke-width="1"/>
<ellipse cx="466" cy="298.5" rx="3.5" ry="7" transform="rotate(-15 466 298.5)" fill="#fff" stroke-width="1.5"/>
<path d="M468,292L474.5,292.5L478,299L476,305.5L470,306L466.5,300Z" fill="#fff" stroke-width="1.5"/>
<ellipse cx="474" cy="299" rx="2.5" ry="4" stroke-width="1"/>
</g>
<!-- rubber 8 bottom -->
<g id="r8b">
<clipPath id="c8b"><path d="M609.9,289.9C612.5,288 616,287.2 619.8,287.4L676,316.4C678.5,317.5 680.5,319.5 681,321.3C682,324.5 682.2,328 681.8,331.2C680.5,336 677,340.5 672.7,342.8C669,344.8 665.5,345.5 662.8,345.3L661.1,342.8L608.2,319.7C605.5,318 604.3,317 604.1,315.5L601.6,301.5C602.5,296 605.5,292 609.9,289.9Z"/></clipPath>
<path d="M609.9,289.9C612.5,288 616,287.2 619.8,287.4L676,316.4C678.5,317.5 680.5,319.5 681,321.3C682,324.5 682.2,328 681.8,331.2C680.5,336 677,340.5 672.7,342.8C669,344.8 665.5,345.5 662.8,345.3L661.1,342.8L608.2,319.7C605.5,318 604.3,317 604.1,315.5L601.6,301.5C602.5,296 605.5,292 609.9,289.9Z" fill="#1a1a1a" stroke="none"/>
<g clip-path="url(#c8b)">
<path d="M595.5,306.0L621.5,292.0M599.5,308.0L625.5,294.0M603.5,310.0L629.5,296.0M607.5,312.0L633.5,298.0M611.5,314.0L637.5,300.0M615.5,316.0L641.5,302.0M619.5,318.0L645.5,304.0M623.5,320.0L649.5,306.0M627.5,322.0L653.5,308.0M631.5,324.0L657.5,310.0M635.5,326.0L661.5,312.0M639.5,328.0L665.5,314.0M643.5,330.0L669.5,316.0M647.5,332.0L673.5,318.0M651.5,334.0L677.5,320.0M655.5,336.0L681.5,322.0M659.5,338.0L685.5,324.0M663.5,340.0L689.5,326.0" stroke="#fff" stroke-width="2.1"/>
<path d="M600,311L662,341L662,350L600,324Z" fill="#b8b8b8" stroke="none"/>
<path d="M602,310.5L662,340" stroke="#000" stroke-width="1.5"/>
</g>
<path d="M609.9,289.9C612.5,288 616,287.2 619.8,287.4L676,316.4C678.5,317.5 680.5,319.5 681,321.3C682,324.5 682.2,328 681.8,331.2C680.5,336 677,340.5 672.7,342.8C669,344.8 665.5,345.5 662.8,345.3L661.1,342.8L608.2,319.7C605.5,318 604.3,317 604.1,315.5L601.6,301.5C602.5,296 605.5,292 609.9,289.9Z" fill="none" stroke-width="1.7"/>
<path d="M663,324L676,318.5L681,323L681,333L675,341L664,344Z" fill="#fff" stroke-width="1.5"/>
<path d="M667.7,328L677.6,325L677.6,337L669,339.5Z" fill="#fff" stroke-width="1.3"/>
</g>
<!-- bracket 5 bottom -->
<g id="b5b">
<path d="M643,367.8L644.6,366.8L649.3,365.2L650.9,362.5L655.7,361.5L660.5,357.2L666.8,359.9L667.9,359.9L680.6,354.6C682.5,354.3 684,354.8 684.4,355.6L686.5,359.9L687,369.4C686.8,371.5 686,373 684.9,373.7L669,382.2C667.5,382.8 666.5,382.8 665.8,381.6L656.2,377.9L643,369.4Z" fill="#fff" stroke-width="1.5"/>
<path d="M666.8,368.4C667,365 668.5,363 670,362L679.6,358.8C682,358 684,359 684.9,360.9L684.9,371.5L669,380.6C667,380.5 666,379 665.8,376.8Z" fill="#fff" stroke-width="1.3"/>
<path d="M645.6,371L661.5,376.8 M666.8,359.9C664,362 661.5,366 661.5,376.8 M649.3,365.2L661,371" stroke-width="1.1"/>
<ellipse cx="655.5" cy="365.5" rx="4.3" ry="3" fill="#fff" stroke-width="1.5"/><path d="M652,366.5C653,368.5 658,368.5 659.5,366.5" stroke-width="1.6"/><path d="M643.5,367.5L645.5,372.5" stroke-width="1.4"/>
<path d="M673.3,383V393" stroke-width="0.8" stroke-dasharray="1.5 1.5"/>
<path d="M656.8,378V385" stroke-width="0.8"/>
</g>
<!-- bolt 12 bottom -->
<g id="bt12b">
<rect x="654.4" y="385.2" width="5.2" height="10.4" rx="1.3" fill="#fff" stroke-width="1.2"/>
<path d="M655.4,388.3L658.6,387.8M655.4,390.8L658.6,390.3M655.4,393.3L658.6,392.8" stroke-width="0.8"/>
<path d="M651.1,397C651.1,394.5 662.9,394.5 662.9,397V401.5C662.9,404.8 651.1,404.8 651.1,401.5Z" fill="#fff" stroke-width="1.6"/>
<path d="M651.3,398.3C654,399.5 660,399.5 662.7,398.3 M654,399V403.5M660,399V403.5" stroke-width="1.1"/>
<path d="M655,401H659" stroke="#000" stroke-width="1.8"/>
</g>
<!-- bolt 13 bottom -->
<g id="bt13b">
<rect x="670.5" y="393.7" width="5.6" height="11.8" rx="1.3" fill="#fff" stroke-width="1.2"/>
<path d="M671.5,396.8L675,396.3M671.5,399.3L675,398.8M671.5,401.8L675,401.3M671.5,404.2L675,403.8" stroke-width="0.8"/>
<ellipse cx="673.3" cy="406.5" rx="5.7" ry="2.4" fill="#fff" stroke-width="1.6"/>
<path d="M667.6,407.5V413C667.6,416.3 679,416.3 679,413V407.5" fill="#fff" stroke-width="1.6"/>
<path d="M670.5,409V415.5M676,409V415.5" stroke-width="1.1"/>
<path d="M671.5,411.5H675" stroke="#000" stroke-width="2"/>
</g>
<!-- FR arrow -->
<path d="M22.4,404.7L25.4,392.8L28.9,395.8L44.7,388.3L49.2,396.3L33.3,404.7L34.3,409.1Z" fill="#000" stroke="#000" stroke-width="1"/>
<text x="0" y="0" transform="translate(50.5,396.5) rotate(-28)" font-family="Liberation Sans, sans-serif" font-weight="bold" font-size="13.5" fill="#000" stroke="#000" stroke-width="0.7">FR</text>
<circle cx="69" cy="383.9" r="1.6" fill="#000" stroke="none"/>
<!-- copyright -->
<text x="424.6" y="394.8" text-anchor="middle" font-family="Liberation Sans, sans-serif" font-size="6.3" fill="#aaa" stroke="none">Copyright</text>
<text x="335.9" y="402.6" textLength="177" lengthAdjust="spacingAndGlyphs" font-family="Liberation Sans, sans-serif" font-size="6.4" fill="#aaa" stroke="none">Page design (c) 2004 - 2014 by ARI Network Services, Inc.</text>
<!-- MZ58 -->
<text x="734" y="415.2" textLength="78.5" lengthAdjust="spacingAndGlyphs" font-family="Liberation Serif, serif" font-size="12.6" fill="#000" stroke="#000" stroke-width="0.45">MZ58−F2000</text>

</g>
</svg>
</body></html>
